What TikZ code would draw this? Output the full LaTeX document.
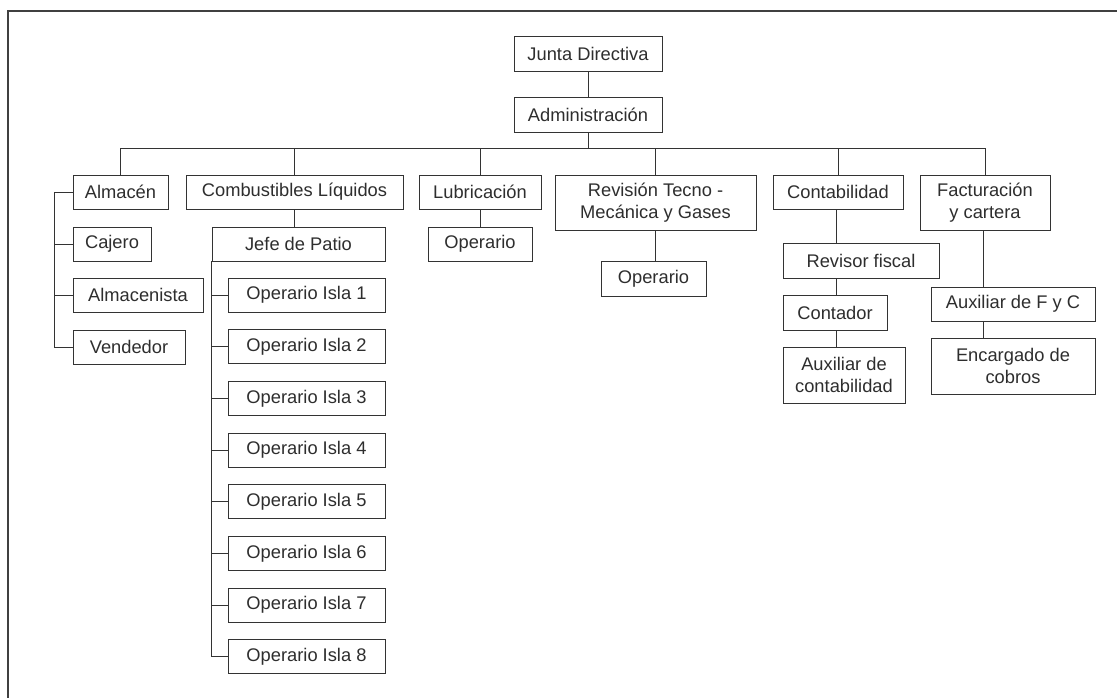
\documentclass[tikz,border=0pt]{standalone}
\usepackage{fontspec}
\setmainfont{Liberation Sans}
\begin{document}
\begin{tikzpicture}[x=1pt,y=-1pt,
  ink/.style={black!82},
  unit/.style={draw=black!80, line width=0.9pt, text=black!82, fill=white,
    inner sep=0pt, align=center, font=\fontsize{18.3}{22}\selectfont},
  link/.style={draw=black!80, line width=0.9pt},
  frame/.style={draw=black!75, line width=1.6pt}]
\useasboundingbox (0,0) rectangle (1117,698);
\draw[frame] (1117,11) -- (8,11) -- (8,698);

% top of the hierarchy
\node[unit, minimum width=148, minimum height=35] (jd)  at (588,53.5)  {Junta Directiva};
\node[unit, minimum width=148, minimum height=35] (adm) at (588,114.5) {Administración};

% departments
\node[unit, minimum width=95,  minimum height=34] (alm)  at (120.5,192) {Almacén};
\node[unit, minimum width=217, minimum height=34] (comb) at (294.5,192) {Combustibles Líquidos};
\node[unit, minimum width=122, minimum height=34] (lub)  at (480,192)   {Lubricación};
\node[unit, minimum width=201, minimum height=55] (rev)  at (655.5,202.5) {Revisión Tecno -\\Mecánica y Gases};
\node[unit, minimum width=130, minimum height=34] (cont) at (838,192)   {Contabilidad};
\node[unit, minimum width=130, minimum height=55] (fac)  at (985,202.5) {Facturación\\y cartera};

% Almacén staff
\node[unit, minimum width=78,  minimum height=34] (caj)  at (112,244) {Cajero};
\node[unit, minimum width=130, minimum height=34] (almc) at (138,295) {Almacenista};
\node[unit, minimum width=112, minimum height=34] (ven)  at (129,347) {Vendedor};

% Combustibles líquidos staff
\node[unit, minimum width=173, minimum height=34] (jefe) at (298.5,244) {Jefe de Patio};
\foreach \i in {1,...,8}{
  \node[unit, minimum width=157, minimum height=34] (isla\i) at (306.5,{295+51.7*(\i-1)}) {Operario Isla \i};
}

% Lubricación and Revisión staff
\node[unit, minimum width=104, minimum height=34] (lubop) at (480,244)   {Operario};
\node[unit, minimum width=105, minimum height=35] (revop) at (653.5,278.5) {Operario};

% Contabilidad staff
\node[unit, minimum width=156, minimum height=35] (rf)   at (861,260.5) {Revisor fiscal};
\node[unit, minimum width=104, minimum height=35] (ctd)  at (835,312.5) {Contador};
\node[unit, minimum width=122, minimum height=56] (auxc) at (844,375)   {Auxiliar de\\contabilidad};

% Facturación staff
\node[unit, minimum width=164, minimum height=34] (auxf) at (1013,304) {Auxiliar de F y C};
\node[unit, minimum width=164, minimum height=56] (enc)  at (1013,366) {Encargado de\\cobros};

% spines and bus
\coordinate (bus)    at (0,148);
\coordinate (aspine) at (54,0);
\coordinate (cspine) at (836,0);
\coordinate (fspine) at (983,0);

\draw[link] (jd) -- (adm);
\draw[link] (adm.south) -- (adm.south |- bus);
\draw[link] (alm.north |- bus) -- (fac.north |- bus);
\foreach \n in {alm,comb,lub,rev,cont,fac}{
  \draw[link] (\n.north) -- (\n.north |- bus);
}

% Almacén branch
\draw[link] (aspine |- alm.west) -- (aspine |- ven.west);
\foreach \n in {alm,caj,almc,ven}{
  \draw[link] (aspine |- \n.west) -- (\n.west);
}

% Combustibles branch
\draw[link] (comb.south) -- (comb.south |- jefe.north);
\draw[link] (jefe.south west) -- (jefe.south west |- isla8.west);
\foreach \i in {1,...,8}{
  \draw[link] (jefe.south west |- isla\i.west) -- (isla\i.west);
}

% Lubricación and Revisión branches
\draw[link] (lub) -- (lubop);
\draw[link] (rev.south) -- (rev.south |- revop.north);

% Contabilidad chain
\draw[link] (cspine |- cont.south) -- (cspine |- rf.north);
\draw[link] (cspine |- rf.south) -- (cspine |- ctd.north);
\draw[link] (cspine |- ctd.south) -- (cspine |- auxc.north);

% Facturación chain
\draw[link] (fspine |- fac.south) -- (fspine |- auxf.north);
\draw[link] (fspine |- auxf.south) -- (fspine |- enc.north);
\end{tikzpicture}
\end{document}
